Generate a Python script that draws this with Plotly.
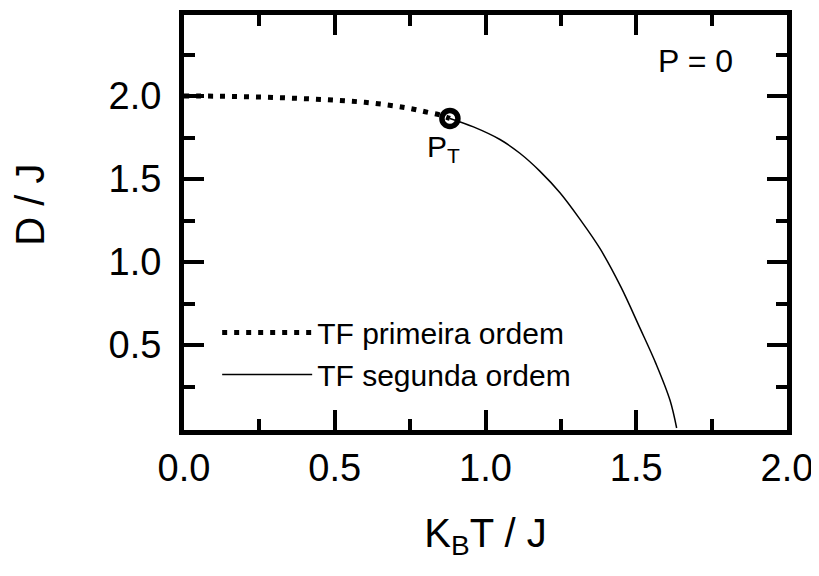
import plotly.graph_objects as go

# First-order transition line (dotted)
x_first = [0.0, 0.1, 0.2, 0.3, 0.4, 0.5, 0.6, 0.7, 0.75, 0.8, 0.85, 0.882]
y_first = [2.0, 1.999, 1.996, 1.991, 1.984, 1.975, 1.962, 1.940, 1.925, 1.905, 1.885, 1.865]

# Second-order transition line (solid)
x_second = [0.882, 0.960, 1.048, 1.114, 1.181, 1.247, 1.313, 1.380, 1.449, 1.512, 1.566, 1.612, 1.634]
y_second = [1.865, 1.814, 1.738, 1.655, 1.546, 1.417, 1.258, 1.080, 0.850, 0.603, 0.385, 0.167, 0.0]

# Tricritical point
x_pt = [0.882]
y_pt = [1.865]

FONT = "Liberation Sans, Arial, sans-serif"

fig = go.Figure()
fig.add_trace(go.Scatter(x=x_first, y=y_first, mode="lines", name="TF primeira ordem",
                         line=dict(color="black", width=5, dash="5px,7px", shape="spline")))
fig.add_trace(go.Scatter(x=x_second, y=y_second, mode="lines", name="TF segunda ordem",
                         line=dict(color="black", width=1.5, shape="spline", smoothing=1)))
fig.add_trace(go.Scatter(x=x_pt, y=y_pt, mode="markers", showlegend=False,
                         marker=dict(symbol="circle-open", size=16, color="black",
                                     line=dict(width=5.5, color="black"))))

axis_common = dict(
    showline=True, linecolor="black", linewidth=5, mirror="ticks",
    ticks="inside", ticklen=20, tickwidth=4, tickcolor="black",
    showgrid=False, zeroline=False,
    tickfont=dict(family=FONT, size=38, color="black"),
    minor=dict(ticks="inside", ticklen=11, tickwidth=4, tickcolor="black", showgrid=False),
)

fig.update_xaxes(range=[0, 2.0], tickvals=[0.0, 0.5, 1.0, 1.5, 2.0],
                 ticktext=["0.0", "0.5", "1.0", "1.5", "2.0"],
                 minor_tickvals=[0.25, 0.75, 1.25, 1.75],
                 ticklabelstandoff=0,
                 title=dict(text="K<sub>B</sub>T / J", font=dict(family=FONT, size=40, color="black"),
                            standoff=33),
                 **axis_common)
fig.update_yaxes(range=[-0.012, 2.488], tickvals=[0.5, 1.0, 1.5, 2.0],
                 ticktext=["0.5", "1.0", "1.5", "2.0"],
                 minor_tickvals=[0.25, 0.75, 1.25, 1.75, 2.25],
                 ticklabelstandoff=10,
                 **axis_common)

fig.add_annotation(x=0, y=0.543, xref="paper", yref="paper", text="D / J", textangle=-90,
                   showarrow=False, xanchor="center", yanchor="middle", xshift=-154,
                   font=dict(family=FONT, size=40, color="black"))
fig.add_annotation(x=0.882, y=1.865, xref="x", yref="y", text="P<sub>T</sub>",
                   showarrow=False, xanchor="center", yanchor="top", yshift=-10, xshift=-6,
                   font=dict(family=FONT, size=30, color="black"))
fig.add_annotation(x=1.698, y=2.21, xref="x", yref="y", text="P = 0", showarrow=False,
                   font=dict(family=FONT, size=32, color="black"))

fig.update_layout(
    width=811, height=568,
    margin=dict(l=176, r=32, t=2, b=146),
    paper_bgcolor="white", plot_bgcolor="white",
    showlegend=True,
    legend=dict(x=0.055, y=0.071, xanchor="left", yanchor="bottom",
                bgcolor="rgba(0,0,0,0)", font=dict(family=FONT, size=30, color="black"),
                itemwidth=90, tracegroupgap=0),
)

fig.write_html("out.html")
